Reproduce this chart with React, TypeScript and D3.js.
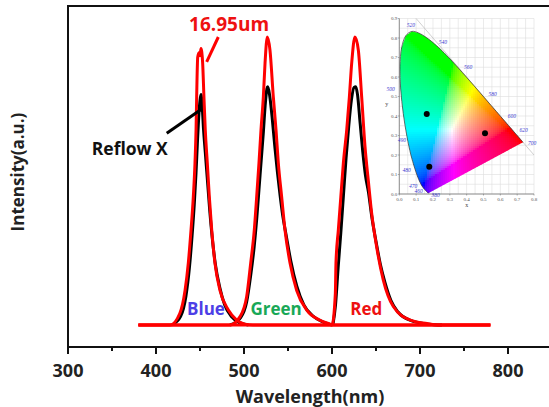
import React from 'react';
import * as d3 from 'd3';

const W = 549;
const H = 407;

// emission spectra [wavelength nm, intensity a.u.]
const blueRed = [[380, 0], [416, 0], [427, 0.04], [433, 0.12], [436.7, 0.215], [439.8, 0.33], [442.4, 0.445], [444.3, 0.5625], [445.5, 0.677], [446.2, 0.79], [447.4, 0.93], [448.9, 0.945], [450, 0.935], [451.1, 0.96], [453, 0.91], [454.5, 0.79], [456, 0.677], [458.3, 0.5625], [460.6, 0.445], [463.3, 0.33], [467, 0.215], [472.7, 0.12], [482.2, 0.052], [491.7, 0.017], [501, 0.003], [510, 0], [780, 0]];
const greenRed = [[380, 0], [484, 0], [495.5, 0.029], [503, 0.098], [507.6, 0.215], [511.7, 0.33], [514.4, 0.445], [517, 0.5625], [519.3, 0.677], [522, 0.793], [523.9, 0.909], [526.5, 1.0], [529.5, 0.955], [533.3, 0.793], [536.4, 0.677], [539, 0.5625], [542.8, 0.445], [546.6, 0.33], [552.3, 0.215], [559.9, 0.12], [571.3, 0.052], [586, 0.017], [597.7, 0.003], [600, 0], [780, 0]];
const redRed = [[380, 0], [600, 0], [603.8, 0.11], [604.5, 0.215], [607.2, 0.33], [610, 0.444], [612.9, 0.5625], [616.7, 0.677], [619.7, 0.79], [622.4, 0.91], [626.1, 1.0], [629.9, 0.955], [633.7, 0.793], [637.5, 0.62], [641.3, 0.5], [645, 0.39], [650.8, 0.27], [658.3, 0.156], [669.7, 0.064], [689, 0.017], [708, 0.005], [720, 0], [780, 0]];

const blueBlack = [[418, 0], [428, 0.03], [434, 0.1], [438, 0.2], [441, 0.31], [443.5, 0.42], [445.5, 0.53], [447, 0.63], [448.5, 0.72], [450, 0.78], [451.1, 0.8], [452.5, 0.76], [454, 0.68], [456, 0.6], [458.5, 0.5], [461, 0.4], [464, 0.3], [467.5, 0.21], [472.5, 0.13], [478, 0.07], [486, 0.028], [495, 0.008], [505, 0]];
const greenBlack = [[484, 0], [496, 0.025], [503, 0.08], [507.5, 0.17], [511.5, 0.27], [514.5, 0.37], [517, 0.47], [519.5, 0.57], [522, 0.67], [524, 0.76], [526, 0.82], [527, 0.827], [529, 0.8], [532, 0.72], [535, 0.62], [538, 0.53], [541, 0.45], [544, 0.38], [548, 0.31], [553, 0.225], [560, 0.135], [568, 0.07], [578, 0.032], [590, 0.01], [600, 0]];
const redBlack = [[601, 0], [604, 0.07], [607, 0.2], [610, 0.32], [613, 0.45], [616, 0.58], [619, 0.69], [622, 0.78], [625, 0.825], [627, 0.827], [629, 0.8], [632, 0.7], [635, 0.6], [638, 0.52], [641.5, 0.46], [645, 0.38], [650, 0.29], [655, 0.21], [660, 0.15], [667, 0.085], [675, 0.045], [690, 0.015], [710, 0.003], [725, 0]];

const xTicks = [300, 400, 500, 600, 700, 800];
const xMinorTicks = [350, 450, 550, 650, 750, 850];

// CIE 1931 spectral locus [nm, x, y]
const locus = [
  [380, 0.1741, 0.005], [400, 0.1733, 0.0048], [410, 0.1726, 0.0048], [420, 0.1714, 0.0051],
  [430, 0.1689, 0.0069], [440, 0.1644, 0.0109], [450, 0.1566, 0.0177], [460, 0.144, 0.0297],
  [465, 0.1355, 0.0399], [470, 0.1241, 0.0578], [475, 0.1096, 0.0868], [480, 0.0913, 0.1327],
  [485, 0.0687, 0.2007], [490, 0.0454, 0.295], [495, 0.0235, 0.4127], [500, 0.0082, 0.5384],
  [505, 0.0039, 0.6548], [510, 0.0139, 0.7502], [515, 0.0389, 0.812], [520, 0.0743, 0.8338],
  [525, 0.1142, 0.8262], [530, 0.1547, 0.8059], [535, 0.1929, 0.7816], [540, 0.2296, 0.7543],
  [545, 0.2658, 0.7243], [550, 0.3016, 0.6923], [555, 0.3373, 0.6589], [560, 0.3731, 0.6245],
  [565, 0.4087, 0.5896], [570, 0.4441, 0.5547], [575, 0.4788, 0.5202], [580, 0.5125, 0.4866],
  [585, 0.5448, 0.4544], [590, 0.5752, 0.4242], [595, 0.6029, 0.3965], [600, 0.627, 0.3725],
  [605, 0.6482, 0.3514], [610, 0.6658, 0.334], [620, 0.6915, 0.3083], [630, 0.7079, 0.292],
  [640, 0.719, 0.2809], [650, 0.726, 0.274], [660, 0.73, 0.27], [680, 0.7334, 0.2666], [700, 0.7347, 0.2653],
];
const locusLabels = [520, 540, 560, 580, 600, 620, 700, 500, 490, 480, 470, 460, 380];
const labelOffset = { 520: [-1, -6], 540: [5, -5], 560: [6, -5], 580: [7, -5], 600: [7, -5], 620: [8, -4], 700: [9, 1], 500: [-10, 0], 490: [-5, 4], 480: [-8, 2], 470: [-7, 3], 460: [-5, 3], 380: [7, 2] };

// measured colour points (x, y)
const cieX = [0.163, 0.178, 0.509];
const cieY = [0.41, 0.14, 0.311];

const cieTicksX = [0, 0.1, 0.2, 0.3, 0.4, 0.5, 0.6, 0.7, 0.8];
const cieTicksY = [0, 0.1, 0.2, 0.3, 0.4, 0.5, 0.6, 0.7, 0.8, 0.9];

const font = "'Open Sans', 'Noto Sans', sans-serif";

function xyToRgb(cx: number, cy: number) {
  const yy = Math.max(cy, 0.002);
  const X = cx / yy, Y = 1, Z = (1 - cx - yy) / yy;
  let r = 3.2406 * X - 1.5372 * Y - 0.4986 * Z;
  let g = -0.9689 * X + 1.8758 * Y + 0.0415 * Z;
  let b = 0.0557 * X - 0.204 * Y + 1.057 * Z;
  r = Math.max(0, r); g = Math.max(0, g); b = Math.max(0, b);
  const m = Math.max(r, g, b) || 1;
  const gam = (v: number) => (v <= 0.0031308 ? 12.92 * v : 1.055 * Math.pow(v, 1 / 2.4) - 0.055);
  return d3.rgb(gam(r / m) * 255, gam(g / m) * 255, gam(b / m) * 255).formatHex();
}

export default function App() {
  const x = d3.scaleLinear().domain([300, 900]).range([68, 596]);
  const y = d3.scaleLinear().domain([0, 1]).range([325, 37]);
  const line = d3.line<number[]>().x(d => x(d[0])).y(d => y(d[1])).curve(d3.curveMonotoneX);

  const cx = d3.scaleLinear().domain([0, 0.8]).range([399.3, 534]);
  const cy = d3.scaleLinear().domain([0, 0.9]).range([194, 18.5]);
  const locusPath = d3.line<number[]>().x(d => cx(d[1])).y(d => cy(d[2]))(locus) as string;

  // colour cells of the chromaticity fill
  const cells: { px: number; py: number; c: string }[] = [];
  const step = 2;
  for (let px = Math.floor(cx(0)); px < cx(0.74); px += step) {
    for (let py = Math.floor(cy(0.84)); py < cy(0); py += step) {
      const u = cx.invert(px + step / 2);
      const v = cy.invert(py + step / 2);
      cells.push({ px, py, c: xyToRgb(u, v) });
    }
  }

  const bottom = 347;
  const top = 6;
  const left = 68;

  return (
    <svg width={W} height={H} style={{ position: 'absolute', left: 0, top: 0, background: '#fff' }}>
      <defs>
        <clipPath id="gamut">
          <path d={locusPath + 'Z'} />
        </clipPath>
      </defs>

      {/* frame */}
      <line x1={left} x2={W} y1={top} y2={top} stroke="#111" strokeWidth={2} />
      <line x1={left} x2={left} y1={top - 1} y2={bottom + 1} stroke="#111" strokeWidth={2} />
      <line x1={left - 1} x2={W} y1={bottom} y2={bottom} stroke="#111" strokeWidth={2} />
      {xTicks.map(t => (
        <g key={t}>
          <line x1={x(t)} x2={x(t)} y1={bottom} y2={bottom + 7} stroke="#111" strokeWidth={2} />
          <text x={x(t)} y={377} textAnchor="middle" fontFamily={font} fontWeight="bold" fontSize={18} fill="#222">{t}</text>
        </g>
      ))}
      {xMinorTicks.map(t => (
        <line key={t} x1={x(t)} x2={x(t)} y1={bottom} y2={bottom + 4} stroke="#111" strokeWidth={2} />
      ))}
      <text x={310} y={403} textAnchor="middle" fontFamily={font} fontWeight="bold" fontSize={18} fill="#222">Wavelength(nm)</text>
      <text transform="translate(24,172) rotate(-90)" textAnchor="middle" fontFamily={font} fontWeight="bold" fontSize={17} fill="#222">Intensity(a.u.)</text>

      {/* inset CIE diagram */}
      <g>
        {d3.range(0, 0.801, 0.05).map(t => (
          <line key={'gx' + t} x1={cx(t)} x2={cx(t)} y1={cy(0)} y2={cy(0.9)} stroke="#ddd" strokeWidth={0.6} />
        ))}
        {d3.range(0, 0.901, 0.05).map(t => (
          <line key={'gy' + t} x1={cx(0)} x2={cx(0.8)} y1={cy(t)} y2={cy(t)} stroke="#ddd" strokeWidth={0.6} />
        ))}
        <line x1={cx(0.1)} y1={cy(0.9)} x2={cx(0.8)} y2={cy(0.2)} stroke="#bbb" strokeWidth={0.7} />
        <g clipPath="url(#gamut)">
          {cells.map((d, i) => (
            <rect key={i} x={d.px} y={d.py} width={step + 0.3} height={step + 0.3} fill={d.c} />
          ))}
        </g>
        <path d={d3.line<number[]>().x(d => cx(d[1])).y(d => cy(d[2])).curve(d3.curveCatmullRom)(locus) as string} fill="none" stroke="#333" strokeWidth={0.7} />
        <line x1={cx(0)} x2={cx(0)} y1={cy(0)} y2={cy(0.9)} stroke="#666" strokeWidth={0.7} />
        <line x1={cx(0)} x2={cx(0.8)} y1={cy(0)} y2={cy(0)} stroke="#666" strokeWidth={0.7} />
        {cieTicksX.map(t => (
          <g key={'tx' + t}>
            <line x1={cx(t)} x2={cx(t)} y1={cy(0)} y2={cy(0) + 1.5} stroke="#666" strokeWidth={0.5} />
            <text x={cx(t)} y={cy(0) + 7} textAnchor="middle" fontFamily="serif" fontSize={5} fill="#555">{t.toFixed(1)}</text>
          </g>
        ))}
        {cieTicksY.map(t => (
          <g key={'ty' + t}>
            <line x1={cx(0) - 1.5} x2={cx(0)} y1={cy(t)} y2={cy(t)} stroke="#666" strokeWidth={0.5} />
            <text x={cx(0) - 2} y={cy(t) + 1.7} textAnchor="end" fontFamily="serif" fontSize={5} fill="#555">{t.toFixed(1)}</text>
          </g>
        ))}
        <text x={cx(0.4)} y={cy(0) + 13} textAnchor="middle" fontFamily="serif" fontSize={6} fill="#444">x</text>
        <text x={386.7} y={cy(0.45)} textAnchor="middle" fontFamily="serif" fontSize={6} fill="#444">y</text>
        {locusLabels.map(w => {
          const p = locus.find(d => d[0] === w)!;
          const o = (labelOffset as any)[w];
          return (
            <text key={'l' + w} x={cx(p[1]) + o[0]} y={cy(p[2]) + o[1] + 2} textAnchor="middle" fontFamily="serif" fontStyle="italic" fontSize={5.5} fill="#3a3ad0">{w}</text>
          );
        })}
        {cieX.map((v, i) => (
          <circle key={'p' + i} cx={cx(v)} cy={cy(cieY[i])} r={3} fill="#000" />
        ))}
      </g>

      {/* spectra */}
      {[blueBlack, greenBlack, redBlack].map((s, i) => (
        <path key={'b' + i} d={line(s) as string} fill="none" stroke="#000" strokeWidth={3} strokeLinejoin="round" />
      ))}
      {[blueRed, greenRed, redRed].map((s, i) => (
        <path key={'r' + i} d={line(s) as string} fill="none" stroke="#ff0000" strokeWidth={3} strokeLinejoin="round" />
      ))}

      {/* annotations */}
      <text x={x(483)} y={y(1.021)} textAnchor="middle" fontFamily={font} fontWeight="bold" fontSize={19} fill="#ee1111">16.95um</text>
      <line x1={x(470.8)} y1={y(1.0)} x2={x(457.6)} y2={y(0.914)} stroke="#ff0000" strokeWidth={3} />
      <text x={x(327)} y={y(0.59)} fontFamily={font} fontWeight="bold" fontSize={17.5} fill="#111">Reflow X</text>
      <line x1={x(412.2)} y1={y(0.666)} x2={x(452)} y2={y(0.75)} stroke="#000" strokeWidth={3} />
      <text x={x(456.8)} y={y(0.035)} textAnchor="middle" fontFamily={font} fontWeight="bold" fontSize={17} fill="#4d3fe6">Blue</text>
      <text x={x(536.4)} y={y(0.035)} textAnchor="middle" fontFamily={font} fontWeight="bold" fontSize={17} fill="#19a857">Green</text>
      <text x={x(639)} y={y(0.035)} textAnchor="middle" fontFamily={font} fontWeight="bold" fontSize={17} fill="#ee1111">Red</text>
    </svg>
  );
}
